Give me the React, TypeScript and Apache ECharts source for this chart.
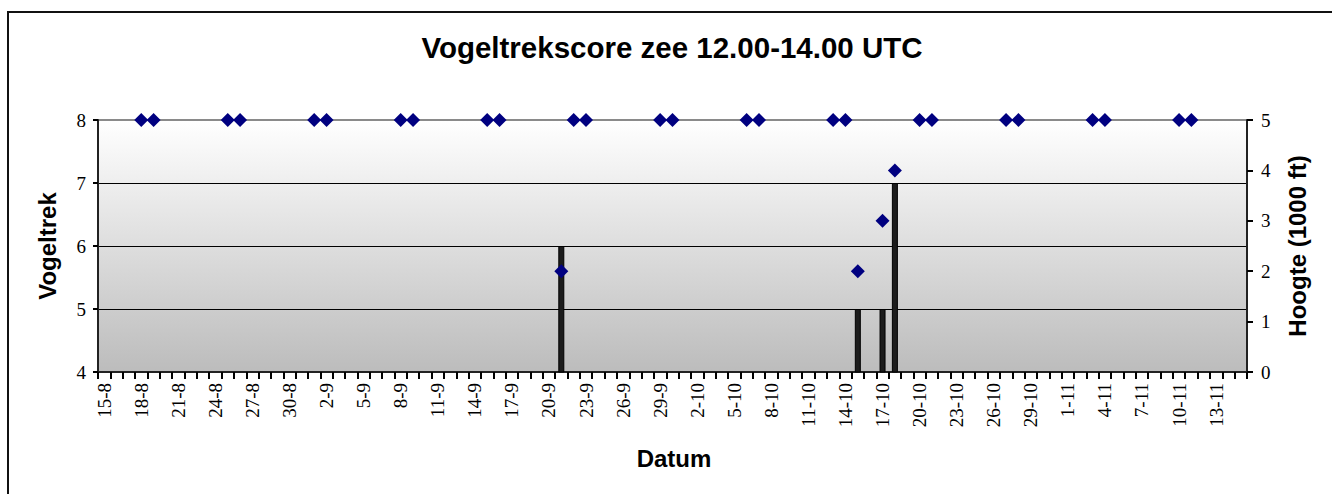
import React, { useEffect, useRef } from "react";
import * as echarts from "echarts";

const categories: string[] = [
  "15-8","16-8","17-8","18-8","19-8","20-8","21-8","22-8","23-8","24-8","25-8","26-8","27-8","28-8","29-8","30-8","31-8",
  "1-9","2-9","3-9","4-9","5-9","6-9","7-9","8-9","9-9","10-9","11-9","12-9","13-9","14-9","15-9","16-9","17-9","18-9","19-9","20-9",
  "21-9","22-9","23-9","24-9","25-9","26-9","27-9","28-9","29-9","30-9",
  "1-10","2-10","3-10","4-10","5-10","6-10","7-10","8-10","9-10","10-10","11-10","12-10","13-10","14-10","15-10","16-10","17-10","18-10",
  "19-10","20-10","21-10","22-10","23-10","24-10","25-10","26-10","27-10","28-10","29-10","30-10","31-10",
  "1-11","2-11","3-11","4-11","5-11","6-11","7-11","8-11","9-11","10-11","11-11","12-11","13-11","14-11","15-11",
];

// Vogeltrek (left axis) bars
const vogeltrekDates = ["21-9", "15-10", "17-10", "18-10"];
const vogeltrekValues = [6, 5, 5, 7];

// Hoogte (right axis, 1000 ft) diamonds
const hoogteDates = [
  "18-8","19-8","25-8","26-8","1-9","2-9","8-9","9-9","15-9","16-9","21-9","22-9","23-9","29-9","30-9",
  "6-10","7-10","13-10","14-10","15-10","17-10","18-10","20-10","21-10","27-10","28-10","3-11","4-11","10-11","11-11",
];
const hoogteValues = [
  5, 5, 5, 5, 5, 5, 5, 5, 5, 5, 2, 5, 5, 5, 5,
  5, 5, 5, 5, 2, 3, 4, 5, 5, 5, 5, 5, 5, 5, 5,
];

const leftTicks = [4, 5, 6, 7, 8];
const rightTicks = [0, 1, 2, 3, 4, 5];

const toSeries = (dates: string[], values: number[]) =>
  categories.map((c) => {
    const i = dates.indexOf(c);
    return i >= 0 ? values[i] : "-";
  });

export default function App() {
  const ref = useRef<HTMLDivElement>(null);
  useEffect(() => {
    if (!ref.current) return;
    const chart = echarts.init(ref.current, null, { renderer: "svg" });
    const serif = "Liberation Serif";
    const sans = "Liberation Sans";
    const axisLineStyle = { color: "#222", width: 2 };
    const tickStyle = { color: "#000", width: 2 };
    const tickLabel = { fontFamily: serif, fontSize: 19, color: "#000" };

    chart.setOption({
      animation: false,
      backgroundColor: "#fff",
      grid: {
        left: 98,
        top: 120,
        width: 1149,
        height: 252,
        show: true,
        borderColor: "#8a8a8a",
        borderWidth: 2,
        backgroundColor: new echarts.graphic.LinearGradient(0, 0, 0, 1, [
          { offset: 0, color: "#ffffff" },
          { offset: 1, color: "#bcbcbc" },
        ]),
      },
      xAxis: {
        type: "category",
        data: categories,
        boundaryGap: true,
        axisLine: { show: true, lineStyle: axisLineStyle },
        axisTick: { show: true, interval: 0, length: 7, lineStyle: tickStyle },
        axisLabel: { ...tickLabel, interval: 2, rotate: 90, margin: 11 },
        splitLine: { show: false },
      },
      yAxis: [
        {
          type: "value",
          position: "left",
          min: leftTicks[0],
          max: leftTicks[leftTicks.length - 1],
          interval: 1,
          axisLine: { show: true, lineStyle: axisLineStyle },
          axisTick: { show: true, length: 5, lineStyle: tickStyle },
          axisLabel: { ...tickLabel, margin: 12 },
          splitLine: { show: true, showMinLine: false, showMaxLine: false, lineStyle: { color: "#000", width: 1 } },
        },
        {
          type: "value",
          position: "right",
          min: rightTicks[0],
          max: rightTicks[rightTicks.length - 1],
          interval: 1,
          axisLine: { show: true, lineStyle: axisLineStyle },
          axisTick: { show: true, length: 6, lineStyle: tickStyle },
          axisLabel: { ...tickLabel, margin: 14 },
          splitLine: { show: false },
        },
      ],
      series: [
        {
          name: "Vogeltrek",
          type: "bar",
          xAxisIndex: 0,
          yAxisIndex: 0,
          data: toSeries(vogeltrekDates, vogeltrekValues),
          barWidth: 6,
          clip: true,
          itemStyle: { color: "#1c1c1c", borderColor: "#000", borderWidth: 1, opacity: 1 },
          z: 2,
        },
        {
          name: "Hoogte",
          type: "scatter",
          xAxisIndex: 0,
          yAxisIndex: 1,
          data: toSeries(hoogteDates, hoogteValues),
          symbol: "diamond",
          symbolSize: 14,
          clip: false,
          itemStyle: { color: "#000080", opacity: 1 },
          z: 5,
        },
      ],
      graphic: [
        {
          type: "rect",
          shape: { x: 8, y: 12, width: 1400, height: 600 },
          style: { fill: "none", stroke: "#111", lineWidth: 2 },
          z: 0,
        },
        {
          type: "text",
          x: 672,
          y: 47,
          style: {
            text: "Vogeltrekscore zee 12.00-14.00 UTC",
            font: `bold 29.5px "${sans}"`,
            fill: "#000",
            align: "center",
            verticalAlign: "middle",
          },
        },
        {
          type: "text",
          x: 47,
          y: 246,
          rotation: Math.PI / 2,
          style: {
            text: "Vogeltrek",
            font: `bold 24px "${sans}"`,
            fill: "#000",
            align: "center",
            verticalAlign: "middle",
          },
        },
        {
          type: "text",
          x: 1297,
          y: 246,
          rotation: Math.PI / 2,
          style: {
            text: "Hoogte (1000 ft)",
            font: `bold 24px "${sans}"`,
            fill: "#000",
            align: "center",
            verticalAlign: "middle",
          },
        },
        {
          type: "text",
          x: 674,
          y: 458,
          style: {
            text: "Datum",
            font: `bold 24px "${sans}"`,
            fill: "#000",
            align: "center",
            verticalAlign: "middle",
          },
        },
      ],
    });

    return () => chart.dispose();
  }, []);
  return (
    <div
      ref={ref}
      style={{ position: "absolute", left: 0, top: 0, width: 1332, height: 494 }}
    />
  );
}
